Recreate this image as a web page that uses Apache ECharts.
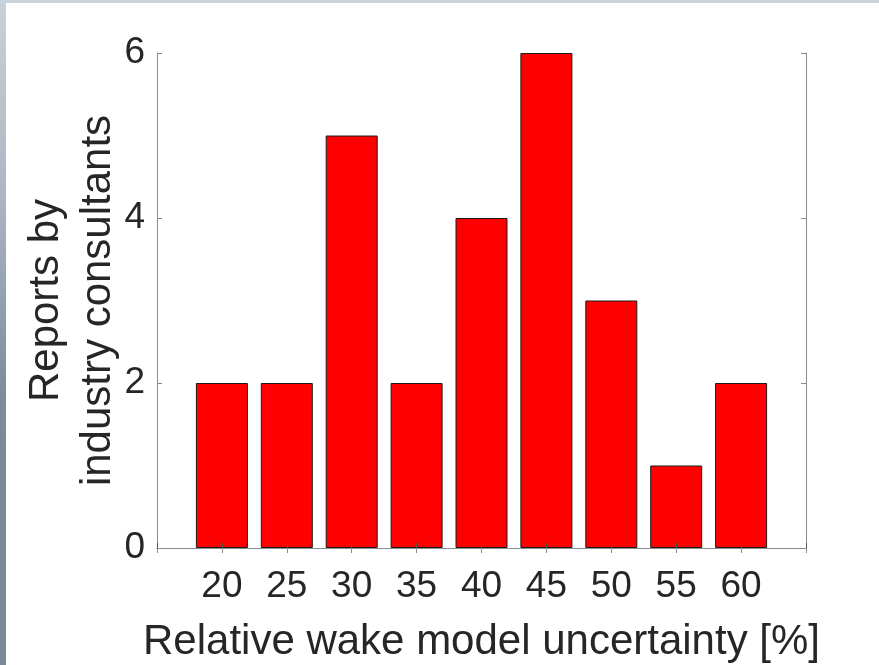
<!DOCTYPE html>
<html>
<head>
    <meta charset="utf-8">
    <title>Wake model uncertainty</title>
    <script src="https://cdn.jsdelivr.net/npm/echarts@6/dist/echarts.min.js"></script>
    <style>
        html, body { margin: 0; padding: 0; }
        body {
            width: 879px; height: 665px; overflow: hidden;
            background: linear-gradient(to bottom, #c9d2db 0%, #aab6c2 30%, #7d8b99 60%, #7a8897 100%);
        }
        #chart1 { position: absolute; left: 6px; top: 3px; width: 873px; height: 662px; background: #fff; }
    </style>
</head>
<body>
<div id="chart1"></div>
<script type="text/javascript">
    // 数据
    var uncertainty = [20, 25, 30, 35, 40, 45, 50, 55, 60];
    var reports = [2, 2, 5, 2, 4, 6, 3, 1, 2];
    var yTicks = [0, 2, 4, 6];

    var axisGray = '#8c8c8c';
    var txt = '#262626';
    var font = 'Liberation Sans, Arial, Helvetica, sans-serif';

    var myChart1 = echarts.init(document.getElementById('chart1'));

    var points = [];
    for (var i = 0; i < uncertainty.length; i++) {
        points.push([uncertainty[i], reports[i]]);
    }

    myChart1.setOption({
        animation: false,
        grid: { left: 151, top: 50, right: 73, bottom: 117, containLabel: false, outerBoundsMode: 'none' },
        xAxis: [{
            type: 'value', min: 15, max: 65, interval: 5, position: 'bottom', z: 3,
            axisLine: { show: true, lineStyle: { color: axisGray, width: 1 } },
            axisTick: { show: true, inside: true, length: 5, lineStyle: { color: '#555' } },
            splitLine: { show: false },
            axisLabel: {
                color: txt, fontSize: 37, fontFamily: font, margin: 20,
                formatter: function (v) { return uncertainty.indexOf(v) >= 0 ? v : ''; }
            },
            name: 'Relative wake model uncertainty [%]',
            nameLocation: 'middle', nameGap: 73, nameMoveOverlap: false,
            nameTextStyle: { color: txt, fontSize: 42, fontFamily: font }
        }, {
            type: 'value', min: 15, max: 65, interval: 5, position: 'top',
            axisLine: { show: true, lineStyle: { color: axisGray, width: 1 } },
            axisTick: { show: true, inside: true, length: 5, lineStyle: { color: axisGray } },
            axisLabel: { show: false },
            splitLine: { show: false }
        }],
        yAxis: [{
            type: 'value', min: 0, max: 6, interval: 2, position: 'left',
            axisLine: { show: true, lineStyle: { color: axisGray, width: 1 } },
            axisTick: { show: true, inside: true, length: 5, lineStyle: { color: axisGray } },
            splitLine: { show: false },
            axisLabel: {
                color: txt, fontSize: 37, fontFamily: font, margin: 12,
                formatter: function (v) { return yTicks.indexOf(v) >= 0 ? v : ''; }
            },
            name: 'Reports by\nindustry consultants',
            nameLocation: 'middle', nameGap: 33, nameRotate: 90, nameMoveOverlap: false,
            nameTextStyle: { color: txt, fontSize: 42, fontFamily: font, lineHeight: 52 }
        }, {
            type: 'value', min: 0, max: 6, interval: 2, position: 'right',
            axisLine: { show: true, lineStyle: { color: axisGray, width: 1 } },
            axisTick: { show: true, inside: true, length: 5, lineStyle: { color: axisGray } },
            axisLabel: { show: false },
            splitLine: { show: false }
        }],
        series: [{
            type: 'bar',
            xAxisIndex: 0, yAxisIndex: 0,
            data: points,
            barWidth: 52,
            itemStyle: { color: '#ff0000', borderColor: '#1a1a1a', borderWidth: 1 }
        }]
    });
</script>
</body>
</html>
